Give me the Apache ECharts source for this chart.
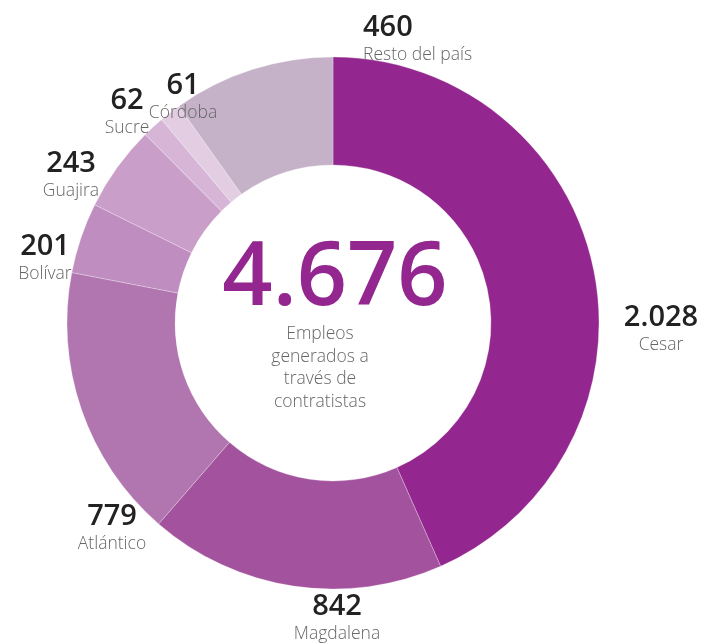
<!DOCTYPE html>
<html>
<head>
<meta charset="utf-8">
<script src="https://cdn.jsdelivr.net/npm/echarts@6/dist/echarts.min.js"></script>
<style>
html,body{margin:0;padding:0;background:#fff;}
#chart{width:702px;height:644px;}
</style>
</head>
<body>
<div id="chart"></div>
<script>
// Data (clockwise from top)
const categories = ["Cesar", "Magdalena", "Atlántico", "Bolívar", "Guajira", "Sucre", "Córdoba", "Resto del país"];
const values = [2028, 842, 779, 201, 243, 62, 61, 460];
const centerLines = ["Empleos", "generados a", "través de", "contratistas"];

// Styling (kept separate from data)
const colors = ["#93268F", "#A3529D", "#B175B0", "#BF8DC0", "#C99FCA", "#D6B5D7", "#E2CDE3", "#C5B2C9"];
// label anchor: [x, blockCenterY, align]
const labelAnchors = [
  [661, 330, "center"],
  [337, 619, "center"],
  [112, 529, "center"],
  [45, 259, "center"],
  [71, 176, "center"],
  [127, 113, "center"],
  [183, 98, "center"],
  [363, 40, "left"]
];

const fmt = n => String(n).replace(/\B(?=(\d{3})+(?!\d))/g, ".");
const total = values.reduce((a, b) => a + b, 0);
const FONT = "'Open Sans', 'Noto Sans', sans-serif";

const chart = echarts.init(document.getElementById("chart"), null, {renderer: "canvas"});
chart.setOption({
  animation: false,
  series: [{
    type: "pie",
    center: [333, 323],
    radius: [158, 266],
    startAngle: 90,
    clockwise: true,
    avoidLabelOverlap: false,
    label: {
      show: true,
      position: "outside",
      formatter: p => "{v|" + fmt(p.value) + "}\n{n|" + p.name + "}",
      rich: {
        v: {fontSize: 29, fontWeight: 600, color: "#222", lineHeight: 30, fontFamily: FONT},
        n: {fontSize: 17.5, fontWeight: 300, color: "#666", lineHeight: 24, fontFamily: FONT}
      }
    },
    labelLine: {show: false},
    labelLayout: p => {
      const a = labelAnchors[p.dataIndex];
      return {x: a[0], y: a[1], align: a[2], verticalAlign: "middle", hideOverlap: false};
    },
    itemStyle: {borderColor: "rgba(255,255,255,0.45)", borderWidth: 0.6},
    emphasis: {disabled: true},
    data: categories.map((c, i) => ({name: c, value: values[i], itemStyle: {color: colors[i]}, label: {align: labelAnchors[i][2]}}))
  }],
  graphic: [
    {type: "text", style: {text: fmt(total), x: 335, y: 280, align: "center", verticalAlign: "middle", fontSize: 88, fontWeight: 600, fontFamily: FONT, fill: "#93268F"}},
    {type: "text", style: {text: centerLines.join("\n"), x: 320, y: 368, align: "center", verticalAlign: "middle", fontSize: 17.5, fontWeight: 300, lineHeight: 22.5, fontFamily: FONT, fill: "#666"}}
  ]
});
</script>
</body>
</html>
